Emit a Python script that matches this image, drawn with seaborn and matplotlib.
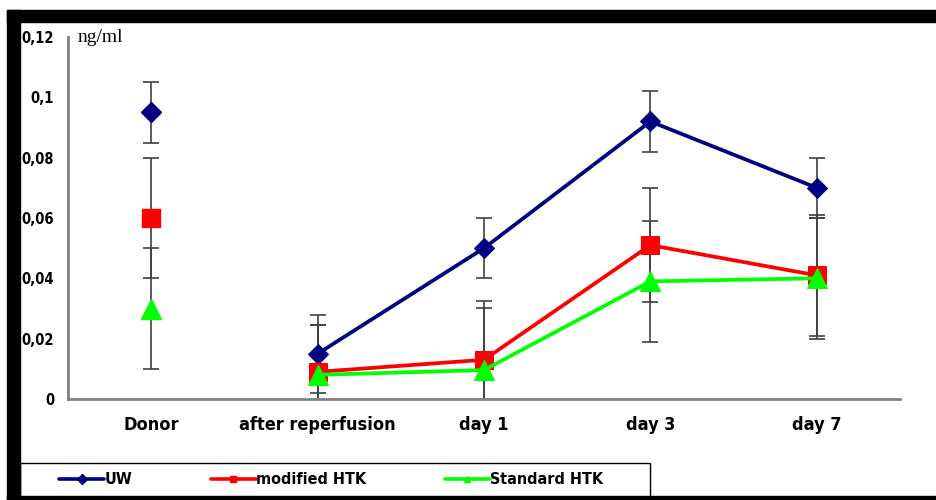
import numpy as np
import pandas as pd
import matplotlib
matplotlib.use("Agg")
import matplotlib.pyplot as plt
from matplotlib.patches import Rectangle
from matplotlib.lines import Line2D
import seaborn as sns

# values (ng/ml), mean and error bar half-length
timepoints = ["Donor", "after reperfusion", "day 1", "day 3", "day 7"]
uw = [0.095, 0.015, 0.050, 0.092, 0.070]
uw_err = [0.010, 0.013, 0.010, 0.010, 0.010]
mod_htk = [0.060, 0.009, 0.013, 0.051, 0.041]
mod_err = [0.020, 0.0155, 0.0195, 0.019, 0.020]
std_htk = [0.030, 0.008, 0.0096, 0.039, 0.040]
std_err = [0.020, 0.0165, 0.0205, 0.020, 0.020]
yticks = [0, 0.02, 0.04, 0.06, 0.08, 0.1, 0.12]
ytick_labels = ["0", "0,02", "0,04", "0,06", "0,08", "0,1", "0,12"]

series = {
    "UW": (uw, uw_err, "#000080", "D", 10.5),
    "modified HTK": (mod_htk, mod_err, "#ff0000", "s", 13),
    "Standard HTK": (std_htk, std_err, "#00ff00", "^", 14),
}

rows = []
for name, (vals, errs, _, _, _) in series.items():
    for i, t in enumerate(timepoints):
        rows.append({"series": name, "timepoint": t, "pos": i, "value": vals[i], "err": errs[i]})
df = pd.DataFrame(rows)

sns.set_style("white")
plt.rcParams["font.family"] = ["DejaVu Sans"]
plt.rcParams["font.stretch"] = "condensed"
plt.rcParams["text.color"] = "black"
plt.rcParams["xtick.labelcolor"] = "black"
plt.rcParams["ytick.labelcolor"] = "black"

fig = plt.figure(figsize=(9.36, 5.0), dpi=100)
ax = fig.add_axes([68 / 936, 1 - 399 / 500, 832 / 936, 362 / 500])

for name, (vals, errs, color, mk, ms) in series.items():
    d = df[df["series"] == name]
    ax.errorbar(d["pos"], d["value"], yerr=d["err"], fmt="none", ecolor="#404040",
                elinewidth=1.2, capsize=6, capthick=1.2, zorder=2)
    # donor is a separate measurement, not joined to the time course
    later = d[d["pos"] > 0]
    sns.lineplot(data=later, x="pos", y="value", color=color, lw=2.7, ax=ax,
                 marker=mk, markersize=ms, markeredgecolor=color, zorder=3, legend=False)
    donor = d[d["pos"] == 0]
    ax.plot(donor["pos"], donor["value"], linestyle="none", marker=mk, markersize=ms,
            color=color, markeredgecolor=color, zorder=3)

ax.set_xlim(-0.5, len(timepoints) - 0.5)
ax.set_ylim(0, 0.12)
ax.set_yticks(yticks)
ax.set_yticklabels(ytick_labels, fontweight="bold", fontsize=10.5)
ax.set_xticks(range(len(timepoints)))
ax.set_xticklabels(timepoints, fontweight="bold", fontsize=13)
ax.set_xticks(np.arange(-0.5, len(timepoints), 1), minor=True)
ax.tick_params(axis="x", which="major", length=0, pad=12)
ax.tick_params(axis="x", which="minor", length=5, width=1.5, color="#808080", direction="out")
ax.tick_params(axis="y", length=5, width=1.5, color="#808080", direction="out", pad=5)
ax.set_xlabel("")
ax.set_ylabel("")
for side in ["top", "right"]:
    ax.spines[side].set_visible(False)
for side in ["left", "bottom"]:
    ax.spines[side].set_color("#808080")
    ax.spines[side].set_linewidth(2)

fig.text(78 / 936, 1 - 37 / 500, "ng/ml", family="Liberation Serif", fontstretch="normal",
         fontsize=14, va="center")

# frame around the picture
fig.patches.append(Rectangle((7 / 936, 1 - 22 / 500), 929 / 936, 12 / 500,
                             transform=fig.transFigure, color="black", zorder=5))
fig.patches.append(Rectangle((7 / 936, 0), 13 / 936, 490 / 500,
                             transform=fig.transFigure, color="black", zorder=5))
fig.patches.append(Rectangle((7 / 936, 0), 929 / 936, 4 / 500,
                             transform=fig.transFigure, color="black", zorder=5))
fig.patches.append(Rectangle((20 / 936, 3 / 500), 630 / 936, 34 / 500, transform=fig.transFigure,
                             facecolor="white", edgecolor="black", lw=1, zorder=4))

handles = [Line2D([], [], color=c, lw=2.6, marker=m, markersize=5, markeredgecolor=c)
           for _, (_, _, c, m, _) in series.items()]
leg = fig.legend(handles, list(series.keys()), loc="center left",
                 bbox_to_anchor=(45 / 936, 1 - 480 / 500), ncol=3, frameon=False,
                 handlelength=2.8, handletextpad=0.05, columnspacing=4.9,
                 prop={"weight": "bold", "size": 11.5, "stretch": "condensed"})
leg.set_zorder(6)

fig.savefig("out.png", dpi=100, facecolor="white")
